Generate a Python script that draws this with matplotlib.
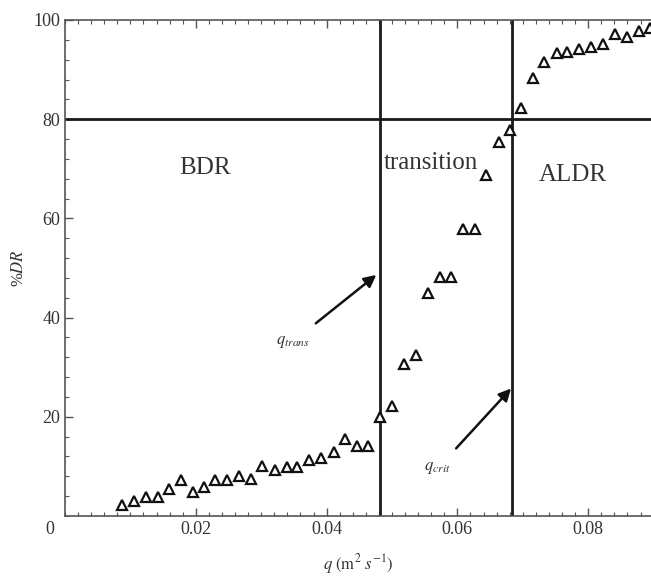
import numpy as np
import matplotlib.pyplot as plt
from matplotlib.ticker import MultipleLocator

plt.rcParams['font.family'] = ['Liberation Serif', 'DejaVu Serif']
plt.rcParams['mathtext.fontset'] = 'stix'

# flow rate q (m2/s) and drag reduction (%)
q = [0.0087, 0.0105, 0.0124, 0.0142, 0.0159, 0.0177, 0.0195, 0.0212, 0.0230, 0.0248,
     0.0266, 0.0284, 0.0301, 0.0321, 0.0339, 0.0355, 0.0373, 0.0392, 0.0411, 0.0428,
     0.0446, 0.0464, 0.0482, 0.0500, 0.0519, 0.0537, 0.0555, 0.0573, 0.0590, 0.0609,
     0.0627, 0.0644, 0.0663, 0.0681, 0.0698, 0.0715, 0.0733, 0.0752, 0.0768, 0.0786,
     0.0804, 0.0822, 0.0841, 0.0859, 0.0877, 0.0895]
dr = [2.2, 3.1, 3.9, 3.9, 5.4, 7.3, 4.9, 5.9, 7.3, 7.3,
      8.1, 7.5, 10.1, 9.3, 9.9, 9.9, 11.3, 11.7, 13.0, 15.5,
      14.1, 14.1, 20.0, 22.2, 30.6, 32.4, 44.9, 48.2, 48.2, 57.9,
      57.9, 68.8, 75.5, 77.8, 82.2, 88.4, 91.5, 93.4, 93.6, 94.1,
      94.6, 95.1, 97.1, 96.6, 97.8, 98.3]

q_trans = 0.0482
q_crit = 0.0684
dr_lim = 80

regiones = ['BDR', 'transition', 'ALDR']
reg_x = [0.0214, 0.0560, 0.0776]
reg_y = [70.2, 71.2, 68.8]

txt = '#333333'

fig = plt.figure(figsize=(6.51, 5.78), dpi=100)
ax = fig.add_axes([0.0998, 0.1073, 0.9002, 0.8581])

ax.plot(q, dr, linestyle='none', marker='^', markersize=7.5,
        markerfacecolor='white', markeredgecolor='#111111', markeredgewidth=1.6, zorder=3)

ax.axvline(q_trans, color='#1a1a1a', linewidth=2.0, zorder=2)
ax.axvline(q_crit, color='#1a1a1a', linewidth=2.0, zorder=2)
ax.axhline(dr_lim, color='#1a1a1a', linewidth=2.0, zorder=2)

for nombre, x, y in zip(regiones, reg_x, reg_y):
    ax.text(x, y, nombre, fontsize=18, color=txt, ha='center', va='center')

ax.annotate(r'$q_{trans}$', xy=(0.0476, 48.6), xytext=(0.0348, 35.1),
            fontsize=12, color=txt, ha='center', va='center',
            arrowprops=dict(arrowstyle='-|>', color='#111111', lw=1.8,
                            mutation_scale=18, shrinkA=9, shrinkB=0))
ax.annotate(r'$q_{crit}$', xy=(0.0682, 25.7), xytext=(0.0570, 9.6),
            fontsize=12, color=txt, ha='center', va='center',
            arrowprops=dict(arrowstyle='-|>', color='#111111', lw=1.8,
                            mutation_scale=18, shrinkA=9, shrinkB=0))

ax.set_xlim(0, 0.0896)
ax.set_ylim(0, 100)
ax.set_xticks([0.02, 0.04, 0.06, 0.08])
ax.set_xticklabels(['0.02', '0.04', '0.06', '0.08'])
ax.set_yticks([20, 40, 60, 80, 100])
ax.xaxis.set_minor_locator(MultipleLocator(0.002))
ax.yaxis.set_minor_locator(MultipleLocator(4))
ax.tick_params(which='both', direction='in', top=True, right=False,
               labelsize=13, labelcolor=txt, color='#555555')
ax.tick_params(which='major', length=6, width=1.0)
ax.tick_params(which='minor', length=3, width=0.8)
ax.text(-0.0023, -2.8, '0', fontsize=13, color=txt, ha='center', va='center', clip_on=False)

for s in ax.spines.values():
    s.set_color('#555555')
    s.set_linewidth(1.2)
ax.spines['right'].set_visible(False)

ax.set_xlabel(r'$q\ (\mathrm{m}^{2}\ s^{-1})$', fontsize=12, color=txt, labelpad=10)
ax.set_ylabel(r'%$DR$', fontsize=12, color=txt)
ax.yaxis.set_label_coords(-0.064, 0.5)

fig.savefig('out.png', dpi=100)
